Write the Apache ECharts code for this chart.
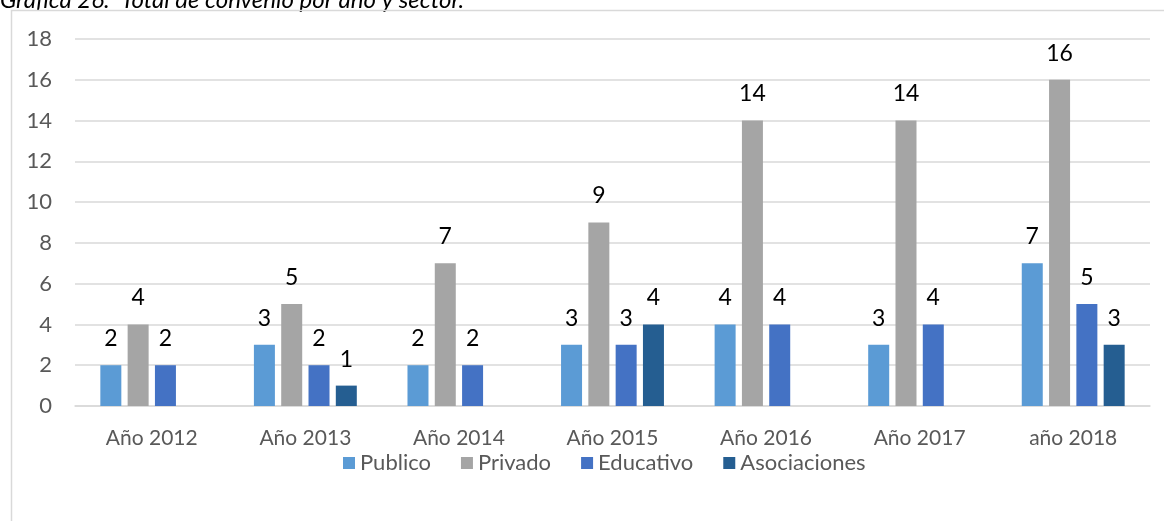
<!DOCTYPE html>
<html>
<head>
<meta charset="utf-8">
<style>
  html, body { margin: 0; padding: 0; background: #fff; }
  #chart { width: 1164px; height: 521px; }
</style>
<script src="https://cdn.jsdelivr.net/npm/echarts@6/dist/echarts.min.js"></script>
</head>
<body>
<div id="chart"></div>
<script>
// data
var years = ['Año 2012', 'Año 2013', 'Año 2014', 'Año 2015', 'Año 2016', 'Año 2017', 'año 2018'];
var publico = [2, 3, 2, 3, 4, 3, 7];
var privado = [4, 5, 7, 9, 14, 14, 16];
var educativo = [2, 2, 2, 3, 4, 4, 5];
var asociaciones = [null, 1, null, 4, null, null, 3];

var seriesNames = ['Publico', 'Privado', 'Educativo', 'Asociaciones'];
var colors = ['#5B9BD5', '#A5A5A5', '#4472C4', '#255E91'];
var font = 'Lato, "Liberation Sans", sans-serif';

var dom = document.getElementById('chart');
var myChart = echarts.init(dom);

function bar(name, data, color) {
    return {
        name: name,
        type: 'bar',
        data: data,
        barWidth: 21,
        barGap: '30%',
        itemStyle: { color: color },
        label: {
            show: true,
            position: 'top',
            distance: 15,
            color: '#000',
            fontFamily: font,
            fontSize: 23
        }
    };
}

var option = {
    animation: false,
    color: colors,
    graphic: [
        {
            type: 'text',
            left: 0,
            top: -12,
            style: {
                text: 'Gráfica 26.  Total de convenio por año y sector.',
                fontFamily: font,
                fontStyle: 'italic',
                fontSize: 24,
                fill: '#000'
            }
        },
        {
            type: 'rect',
            shape: { x: 11.5, y: 10.5, width: 1300, height: 700 },
            style: { fill: null, stroke: '#d9d9d9', lineWidth: 1.5 },
            silent: true
        }
    ],
    grid: { left: 75, right: 14, top: 39, bottom: 115 },
    legend: {
        bottom: 42,
        left: 338,
        itemWidth: 12,
        itemHeight: 12,
        itemGap: 30,
        icon: 'rect',
        textStyle: { color: '#595959', fontFamily: font, fontSize: 22 },
        data: seriesNames
    },
    xAxis: {
        type: 'category',
        data: years,
        axisLine: { lineStyle: { color: '#d9d9d9', width: 1.5 } },
        axisTick: { show: false },
        axisLabel: { color: '#595959', fontFamily: font, fontSize: 21, margin: 22 }
    },
    yAxis: {
        type: 'value',
        min: 0,
        max: 18,
        interval: 2,
        axisLine: { show: false },
        axisTick: { show: false },
        splitLine: { lineStyle: { color: '#d9d9d9', width: 1.5 } },
        axisLabel: { color: '#595959', fontFamily: font, fontSize: 22, margin: 23 }
    },
    series: [
        bar(seriesNames[0], publico, colors[0]),
        bar(seriesNames[1], privado, colors[1]),
        bar(seriesNames[2], educativo, colors[2]),
        bar(seriesNames[3], asociaciones, colors[3])
    ]
};

if (option && typeof option === "object") {
    myChart.setOption(option, true);
}
</script>
</body>
</html>
